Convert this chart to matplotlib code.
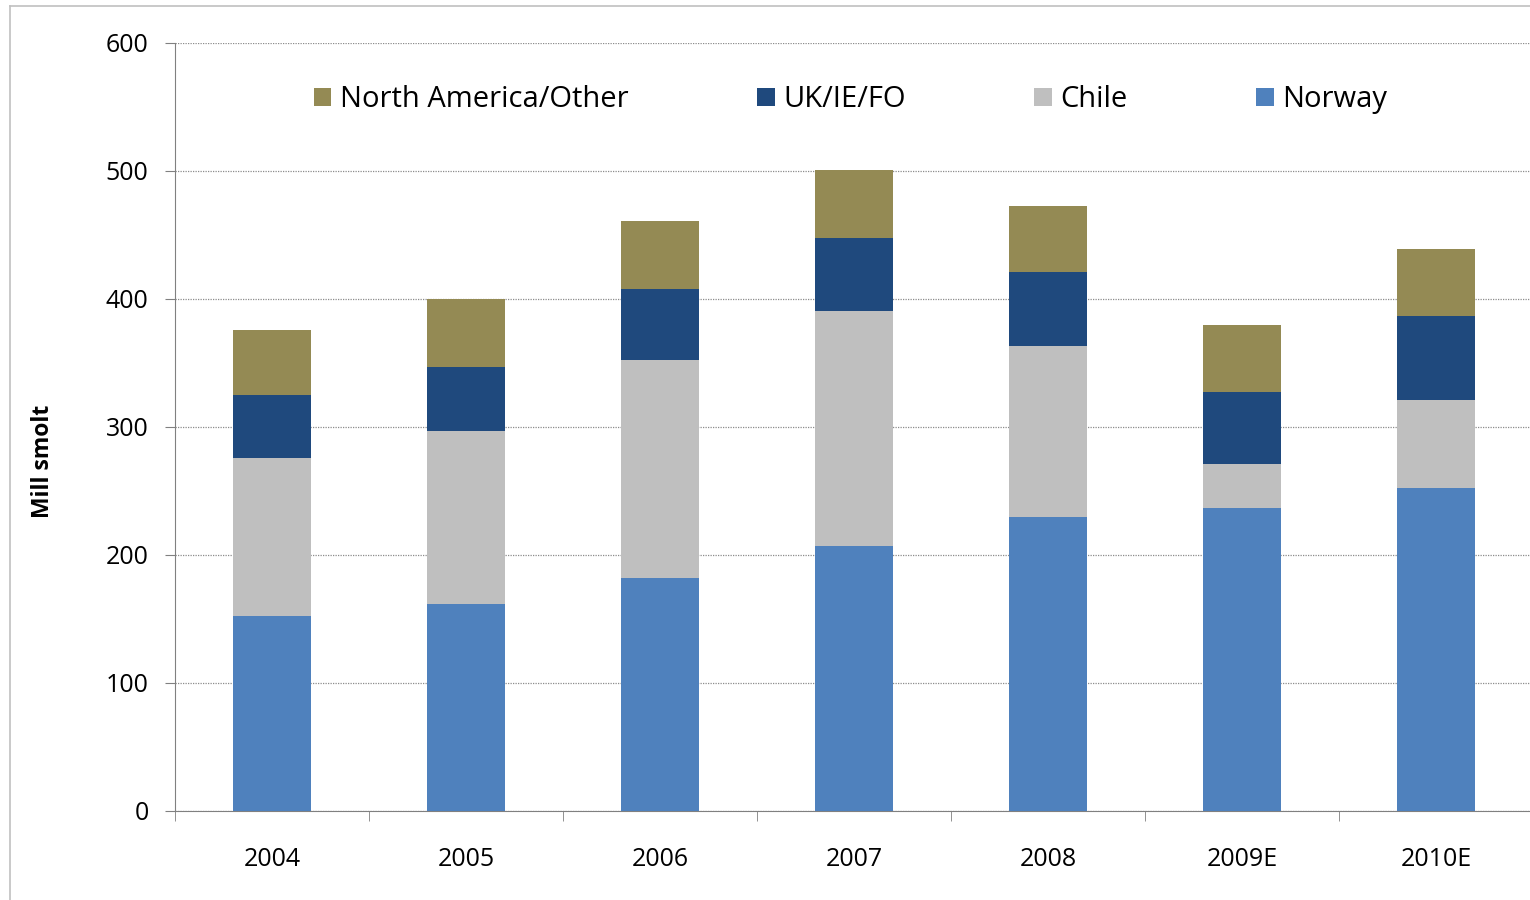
import numpy as np
import matplotlib
matplotlib.use("Agg")
import matplotlib.pyplot as plt
from matplotlib.lines import Line2D

years = ['2004', '2005', '2006', '2007', '2008', '2009E', '2010E']
norway = [152, 162, 182, 207, 230, 237, 252]
chile = [124, 135, 170, 184, 133, 34, 69]
uk_ie_fo = [49, 50, 56, 57, 58, 56, 66]
na_other = [51, 53, 53, 53, 52, 53, 52]

plt.rcParams['font.family'] = ['Open Sans', 'DejaVu Sans']

fig = plt.figure(figsize=(15.3, 9), dpi=100)
ax = fig.add_axes([175 / 1530, 89 / 900, 1358 / 1530, 768 / 900])

x = np.arange(len(years))
w = 0.4
series = [
    ('Norway', norway, '#4F81BD'),
    ('Chile', chile, '#BFBFBF'),
    ('UK/IE/FO', uk_ie_fo, '#1F497D'),
    ('North America/Other', na_other, '#948A54'),
]
bottom = np.zeros(len(years))
handles = {}
for name, vals, color in series:
    b = ax.bar(x, vals, w, bottom=bottom, color=color, label=name, zorder=3)
    handles[name] = b
    bottom += np.array(vals)

ax.set_xlim(-0.5, len(years) - 0.5)
ax.set_ylim(0, 600)
ax.set_yticks(range(0, 601, 100))
ax.set_xticks(x)
ax.set_xticklabels(years)
ax.set_xticks(np.arange(-0.5, len(years)), minor=True)
ax.tick_params(axis='x', which='major', length=0, pad=26, labelsize=18)
ax.tick_params(axis='x', which='minor', length=7, color='#808080', direction='out')
ax.tick_params(axis='y', length=7, color='#808080', direction='out', pad=12, labelsize=18)

ax.yaxis.grid(True, linestyle=(0, (1, 1)), color='#8c8c8c', linewidth=0.9, zorder=0)
for s in ['top', 'right']:
    ax.spines[s].set_visible(False)
for s in ['left', 'bottom']:
    ax.spines[s].set_color('#808080')

ax.set_ylabel('Mill smolt', fontsize=16.5, fontweight='bold')
ax.yaxis.set_label_coords(-0.088, 0.455)

order = ['North America/Other', 'UK/IE/FO', 'Chile', 'Norway']
leg = ax.legend([handles[n] for n in order], order, ncol=4, frameon=False,
                loc='center left', bbox_to_anchor=(0.083, 0.926),
                fontsize=21, handlelength=0.6, handleheight=0.6,
                handletextpad=0.3, columnspacing=4.4)

# outer frame of the original picture
fig.add_artist(Line2D([10 / 1530, 10 / 1530], [0, 1 - 6 / 900],
                      transform=fig.transFigure, color='#C0C0C0', linewidth=1.2))
fig.add_artist(Line2D([10 / 1530, 1], [1 - 6 / 900, 1 - 6 / 900],
                      transform=fig.transFigure, color='#C0C0C0', linewidth=1.2))

fig.savefig('out.png', dpi=100)
plt.close(fig)
